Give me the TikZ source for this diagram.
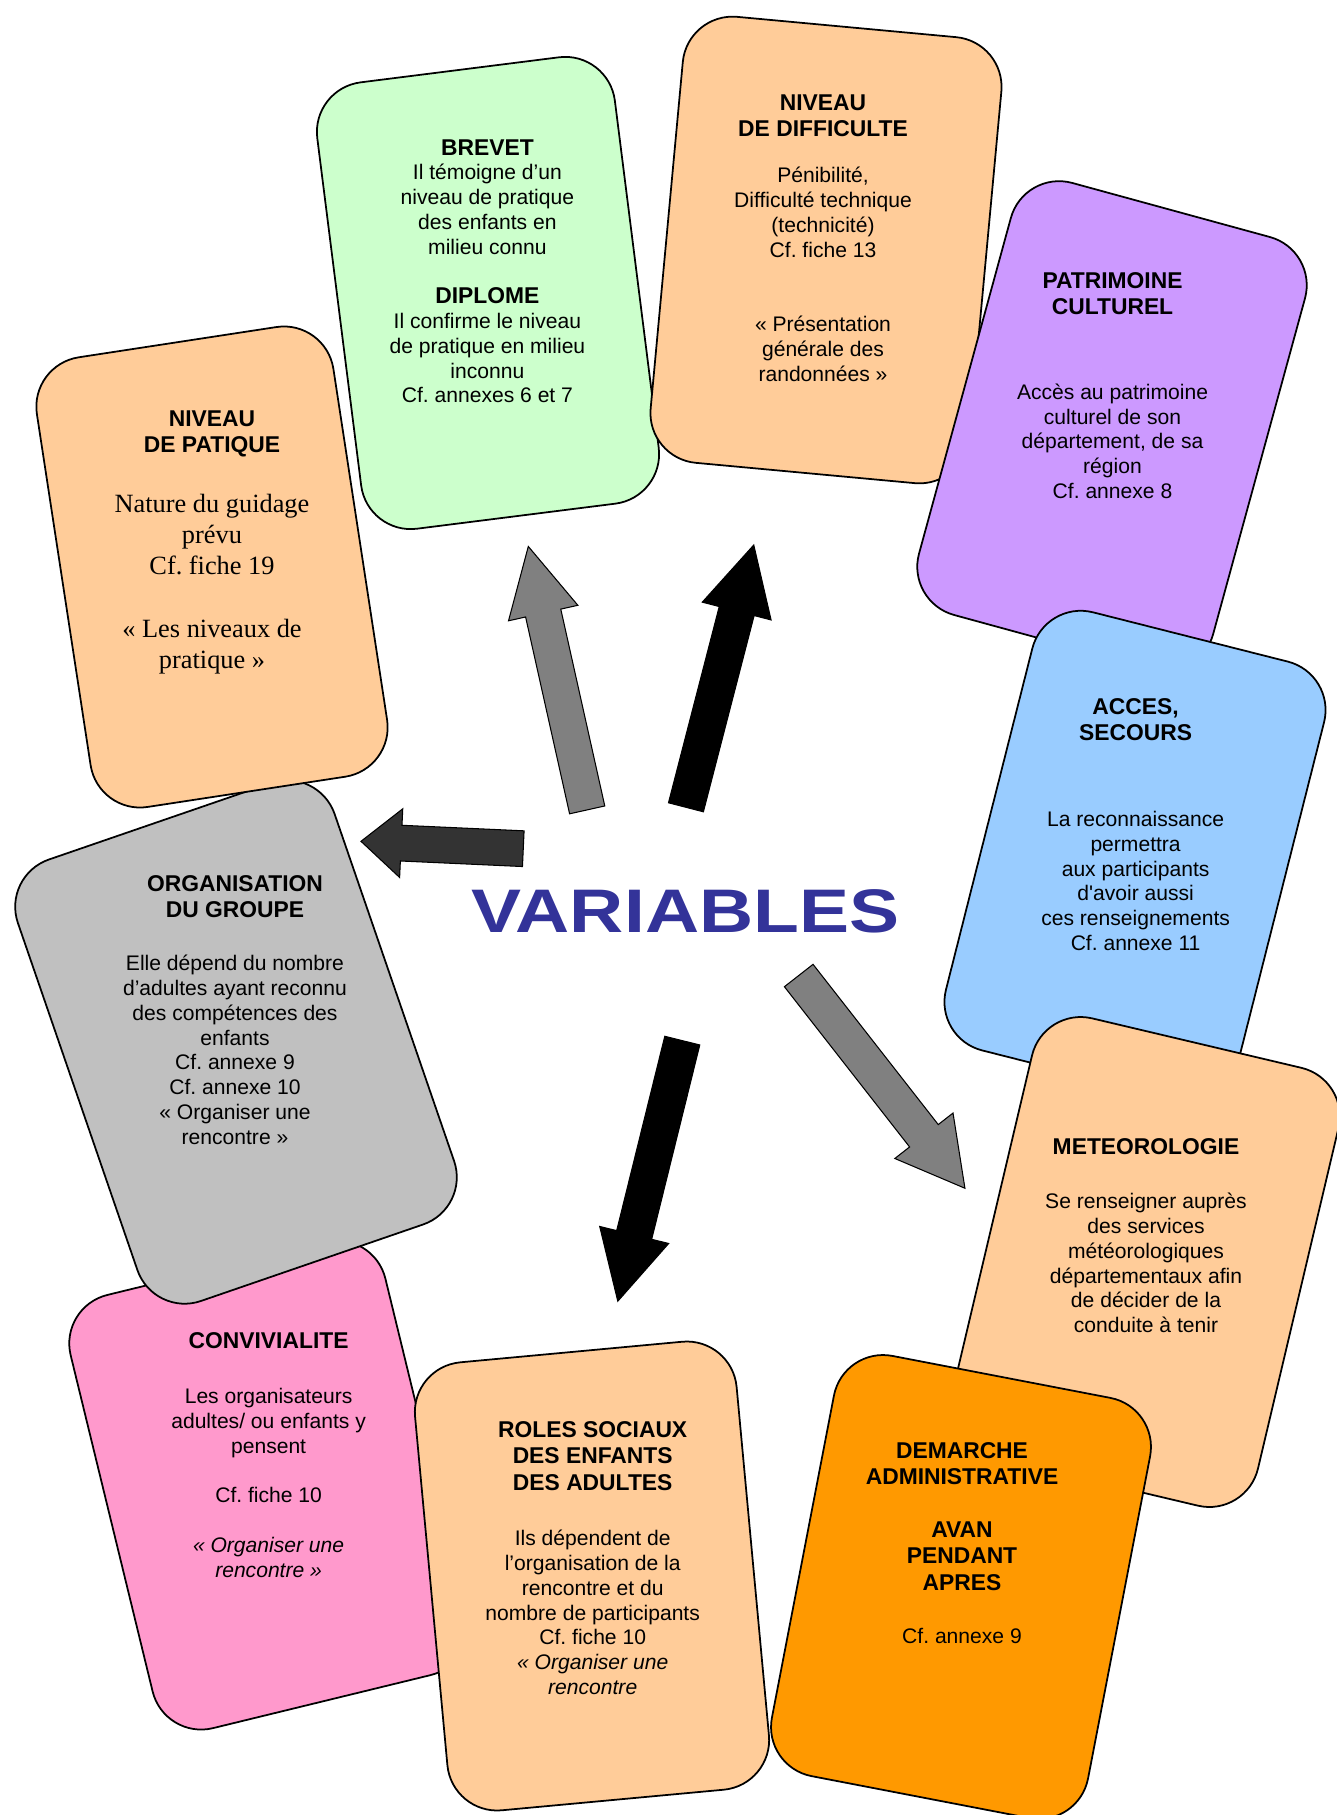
\documentclass[tikz,border=0pt]{standalone}
\usepackage{graphicx}
\usepackage{fontspec}
\setmainfont{Liberation Sans}
\newfontfamily\timesfont{Liberation Serif}
\usetikzlibrary{shapes.arrows}

\definecolor{peach}{HTML}{FFCC99}
\definecolor{mint}{HTML}{CCFFCC}
\definecolor{lilac}{HTML}{CC99FF}
\definecolor{sky}{HTML}{99CCFF}
\definecolor{tangerine}{HTML}{FF9900}
\definecolor{rose}{HTML}{FF99CC}
\definecolor{silver}{HTML}{C0C0C0}
\definecolor{indigo}{HTML}{333399}
\definecolor{midgray}{HTML}{808080}
\definecolor{coal}{HTML}{333333}

\newcommand{\cardhead}[1]{{\bfseries\fontsize{13pt}{14.1pt}\selectfont #1}}

\begin{document}
\frenchspacing
\begin{tikzpicture}[x=0.02cm, y=-0.02cm]
            % Define styles
            \tikzstyle{card} = [rectangle, draw, line width=1pt, rounded corners=1cm, inner sep=0pt]
            \tikzstyle{cardtitle} = [align=center, anchor=north, inner sep=0pt, font=\fontsize{13pt}{15pt}\selectfont\bfseries]
            \tikzstyle{cardtext} = [align=center, anchor=north, inner sep=0pt, font=\fontsize{12pt}{14.1pt}\selectfont]
            \tikzstyle{bigarrow} = [single arrow, draw, line width=0.6pt, inner xsep=0pt, inner ysep=0.35cm,
                                    single arrow head extend=0.35cm, single arrow tip angle=55, anchor=tail]

            \useasboundingbox (0,0) rectangle (1337,1815);
            \clip (0,0) rectangle (1337,1815);

            % Convivialite (bottom left)
            \node[card, fill=rose, minimum width=6.48cm, minimum height=8.92cm, rotate=13.7] (convivialite) at (269,1485) {};
            \node[cardtitle] (convivialiteTitle) at (268.6,1332) {CONVIVIALITE};
            \node[cardtext] (convivialiteText) at (268.6,1388) {Les organisateurs\\adultes/ ou enfants y\\pensent\\[14.1pt]Cf. fiche 10\\[14.1pt]{\itshape « Organiser une}\\{\itshape rencontre »}};

            % Organisation du groupe
            \node[card, fill=silver, minimum width=6.7cm, minimum height=9.34cm, rotate=19] (organisation) at (236,1042) {};
            \node[cardtitle] (organisationTitle) at (235,875) {ORGANISATION\\DU GROUPE};
            \node[cardtext] (organisationText) at (235,955) {Elle dépend du nombre\\d’adultes ayant reconnu\\des compétences des\\enfants\\Cf. annexe 9\\Cf. annexe 10\\« Organiser une\\rencontre »};

            % Niveau de pratique
            \node[card, fill=peach, minimum width=6cm, minimum height=9.1cm, rotate=8.7] (pratique) at (212,567) {};
            \node[cardtitle] (pratiqueTitle) at (212,410) {NIVEAU\\DE PATIQUE};
            \node[cardtext, font=\timesfont\fontsize{15pt}{17.7pt}\selectfont] (pratiqueText) at (212,494) {Nature du guidage\\prévu\\Cf. fiche 19\\[17.7pt]« Les niveaux de\\pratique »};

            % Brevet / diplome
            \node[card, fill=mint, minimum width=6cm, minimum height=9cm, rotate=7.2] (brevet) at (488,293) {};
            \node[cardtext] (brevetText) at (487.4,139) {\cardhead{BREVET}\\Il témoigne d’un\\niveau de pratique\\des enfants en\\milieu connu\\[14.1pt]\cardhead{DIPLOME}\\Il confirme le niveau\\de pratique en milieu\\inconnu\\Cf. annexes 6 et 7};

            % Niveau de difficulte
            \node[card, fill=peach, minimum width=6.4cm, minimum height=8.96cm, rotate=-5.3] (difficulte) at (826,250) {};
            \node[cardtitle] (difficulteTitle) at (823,94) {NIVEAU\\DE DIFFICULTE};
            \node[cardtext] (difficulteText) at (823,167) {Pénibilité,\\Difficulté technique\\(technicité)\\Cf. fiche 13\\[28.2pt]« Présentation\\générale des\\randonnées »};

            % Patrimoine culturel
            \node[card, fill=lilac, minimum width=6.1cm, minimum height=8.96cm, rotate=-15.3] (patrimoine) at (1112,426) {};
            \node[cardtitle] (patrimoineTitle) at (1112.5,272) {PATRIMOINE\\CULTUREL};
            \node[cardtext] (patrimoineText) at (1112.5,383.5) {Accès au patrimoine\\culturel de son\\département, de sa\\région\\Cf. annexe 8};

            % Acces, secours
            \node[card, fill=sky, minimum width=6.02cm, minimum height=9.04cm, rotate=-14.2] (secours) at (1135,856) {};
            \node[cardtitle] (secoursTitle) at (1135.6,698) {ACCES,\\SECOURS};
            \node[cardtext] (secoursText) at (1135.6,811) {La reconnaissance\\permettra\\aux participants\\d\textquotesingle avoir aussi\\ces renseignements\\Cf. annexe 11};

            % Meteorologie
            \node[card, fill=peach, minimum width=6.3cm, minimum height=9cm, rotate=-13.3] (meteo) at (1145,1262) {};
            \node[cardtitle] (meteoTitle) at (1146,1138) {METEOROLOGIE};
            \node[cardtext] (meteoText) at (1146,1193) {Se renseigner auprès\\des services\\météorologiques\\départementaux afin\\de décider de la\\conduite à tenir};

            % Demarche administrative
            \node[card, fill=tangerine, minimum width=6.44cm, minimum height=8.56cm, rotate=-10.9] (demarche) at (961,1587) {};
            \node[cardtitle] (demarcheTitle) at (962,1442) {DEMARCHE\\ADMINISTRATIVE\\[15pt]AVAN\\PENDANT\\APRES};
            \node[cardtext] (demarcheText) at (962,1628) {Cf. annexe 9};

            % Roles sociaux
            \node[card, fill=peach, minimum width=6.46cm, minimum height=9cm, rotate=5.3] (roles) at (592,1576) {};
            \node[cardtitle] (rolesTitle) at (592.7,1421) {ROLES SOCIAUX\\DES ENFANTS\\DES ADULTES};
            \node[cardtext] (rolesText) at (592.7,1530) {Ils dépendent de\\l’organisation de la\\rencontre et du\\nombre de participants\\Cf. fiche 10\\{\itshape « Organiser une}\\{\itshape rencontre}};

            % Centre word
            \node[font=\fontsize{35pt}{40pt}\selectfont\bfseries, text=indigo, inner sep=0pt] (variables) at (685.3,911) {\scalebox{1.22}[1]{VARIABLES}};

            % Block arrows
            \node[bigarrow, fill=midgray, rotate=102.6, minimum height=5.4cm] (toBrevet) at (587.3,810.4) {};
            \node[bigarrow, fill=black, rotate=75.5, minimum height=5.42cm] (toDifficulte) at (685.8,807.8) {};
            \node[bigarrow, fill=coal, rotate=177.4, minimum height=3.25cm, inner ysep=0.347cm,
                  single arrow head extend=0.33cm, single arrow tip angle=81] (toOrganisation) at (523.8,848.7) {};
            \node[bigarrow, fill=midgray, rotate=-52, minimum height=5.4cm, inner ysep=0.353cm,
                  single arrow head extend=0.375cm, single arrow tip angle=58] (toMeteo) at (798.4,975.1) {};
            \node[bigarrow, fill=black, rotate=-103.9, minimum height=5.37cm] (toRoles) at (682.4,1040.1) {};
        \end{tikzpicture}
\end{document}
